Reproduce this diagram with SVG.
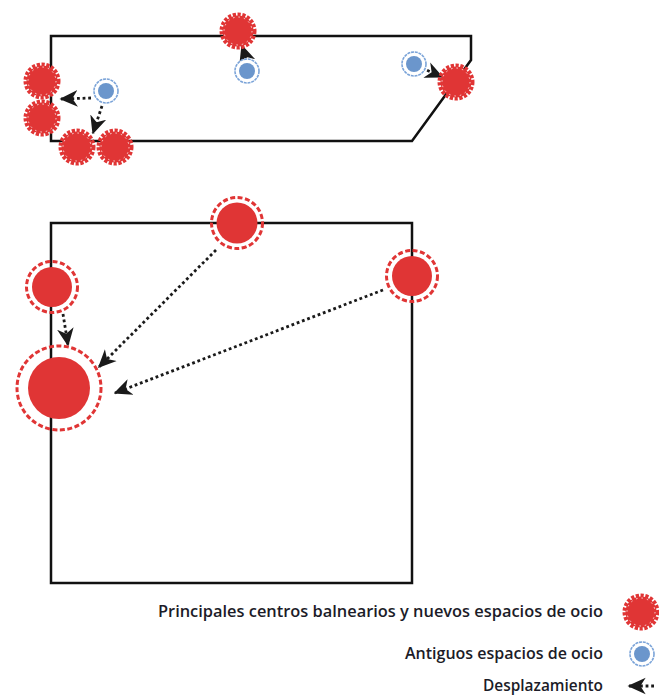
<svg xmlns="http://www.w3.org/2000/svg" width="659" height="698" viewBox="0 0 659 698">
<style>
.frame{fill:none;stroke:#111;stroke-width:2.5;stroke-linejoin:miter}
.lnk{fill:none;stroke:#1a1a1a;stroke-width:2.8;stroke-dasharray:2.8 2.8}
.lbl{font-family:"Open Sans","Liberation Sans",sans-serif;font-weight:600;font-size:16px;fill:#1c1c28;text-anchor:end}
.rf{fill:#e03535}
.rr{fill:none;stroke:#e03535;stroke-width:3;stroke-dasharray:5 2.5}
</style>
<defs>
<marker id="ah" viewBox="0 0 12 12" refX="11" refY="6" markerWidth="6.5" markerHeight="6.5" orient="auto" markerUnits="strokeWidth">
<path d="M12,6 L0,0.5 L3.5,6 L0,11.5 Z" fill="#1a1a1a"/>
</marker>
<g id="gear">
<circle r="15.5" fill="#e03535"/>
<circle r="16.5" fill="none" stroke="#e03535" stroke-width="4" stroke-dasharray="3.2 1.6"/>
<circle r="14" fill="none" stroke="#fff" stroke-width="0.8" stroke-dasharray="1.5 4"/>
</g>
<g id="old">
<circle r="12" fill="#fff" stroke="#7aa3d8" stroke-width="1.6" stroke-dasharray="3 0.8"/>
<circle r="8" fill="#6b96cc"/>
</g>
</defs>

<g id="top-frame">
<path class="frame" d="M51,36 H471 V60 L412,141 H51 Z"/>
</g>
<g id="bottom-frame">
<rect class="frame" x="51" y="223" width="361" height="360"/>
</g>

<g id="connectors">
<line class="lnk" x1="91" y1="98" x2="61" y2="99" marker-end="url(#ah)"/>
<line class="lnk" x1="102" y1="106" x2="93" y2="133" marker-end="url(#ah)"/>
<line class="lnk" x1="246" y1="58" x2="242" y2="46" marker-end="url(#ah)"/>
<line class="lnk" x1="422" y1="68" x2="442" y2="77" marker-end="url(#ah)"/>
<line class="lnk" x1="63" y1="314" x2="68" y2="345" marker-end="url(#ah)"/>
<line class="lnk" x1="216" y1="250" x2="99" y2="367" marker-end="url(#ah)"/>
<line class="lnk" x1="383" y1="290" x2="115" y2="393" marker-end="url(#ah)"/>
</g>

<g id="old-1"><use href="#old" x="247" y="71"/></g>
<g id="old-2"><use href="#old" x="106" y="91"/></g>
<g id="old-3"><use href="#old" x="414" y="64"/></g>

<g id="new-1"><use href="#gear" x="238" y="31"/></g>
<g id="new-2"><use href="#gear" x="456" y="82"/></g>
<g id="new-3"><use href="#gear" x="42" y="81"/></g>
<g id="new-4"><use href="#gear" x="42" y="118"/></g>
<g id="new-5"><use href="#gear" x="77" y="147"/></g>
<g id="new-6"><use href="#gear" x="115" y="147"/></g>

<g id="center-top"><circle class="rf" cx="237" cy="223" r="20.5"/><circle class="rr" cx="237" cy="223" r="25.5"/></g>
<g id="center-left"><circle class="rf" cx="52" cy="287" r="20"/><circle class="rr" cx="52" cy="287" r="25.5"/></g>
<g id="center-right"><circle class="rf" cx="412" cy="276" r="20"/><circle class="rr" cx="412" cy="276" r="25.5"/></g>
<g id="center-main"><circle class="rf" cx="59" cy="388" r="31"/><circle class="rr" cx="59" cy="388" r="42"/></g>

<g id="legend">
<text class="lbl" x="603" y="617" textLength="445" lengthAdjust="spacingAndGlyphs">Principales centros balnearios y nuevos espacios de ocio</text>
<text class="lbl" x="603" y="659" textLength="198" lengthAdjust="spacingAndGlyphs">Antiguos espacios de ocio</text>
<text class="lbl" x="603" y="691" textLength="120" lengthAdjust="spacingAndGlyphs">Desplazamiento</text>
<use href="#gear" x="641" y="612"/>
<use href="#old" x="642" y="654"/>
<line class="lnk" x1="654" y1="686" x2="629" y2="686" marker-end="url(#ah)"/>
</g>
</svg>
